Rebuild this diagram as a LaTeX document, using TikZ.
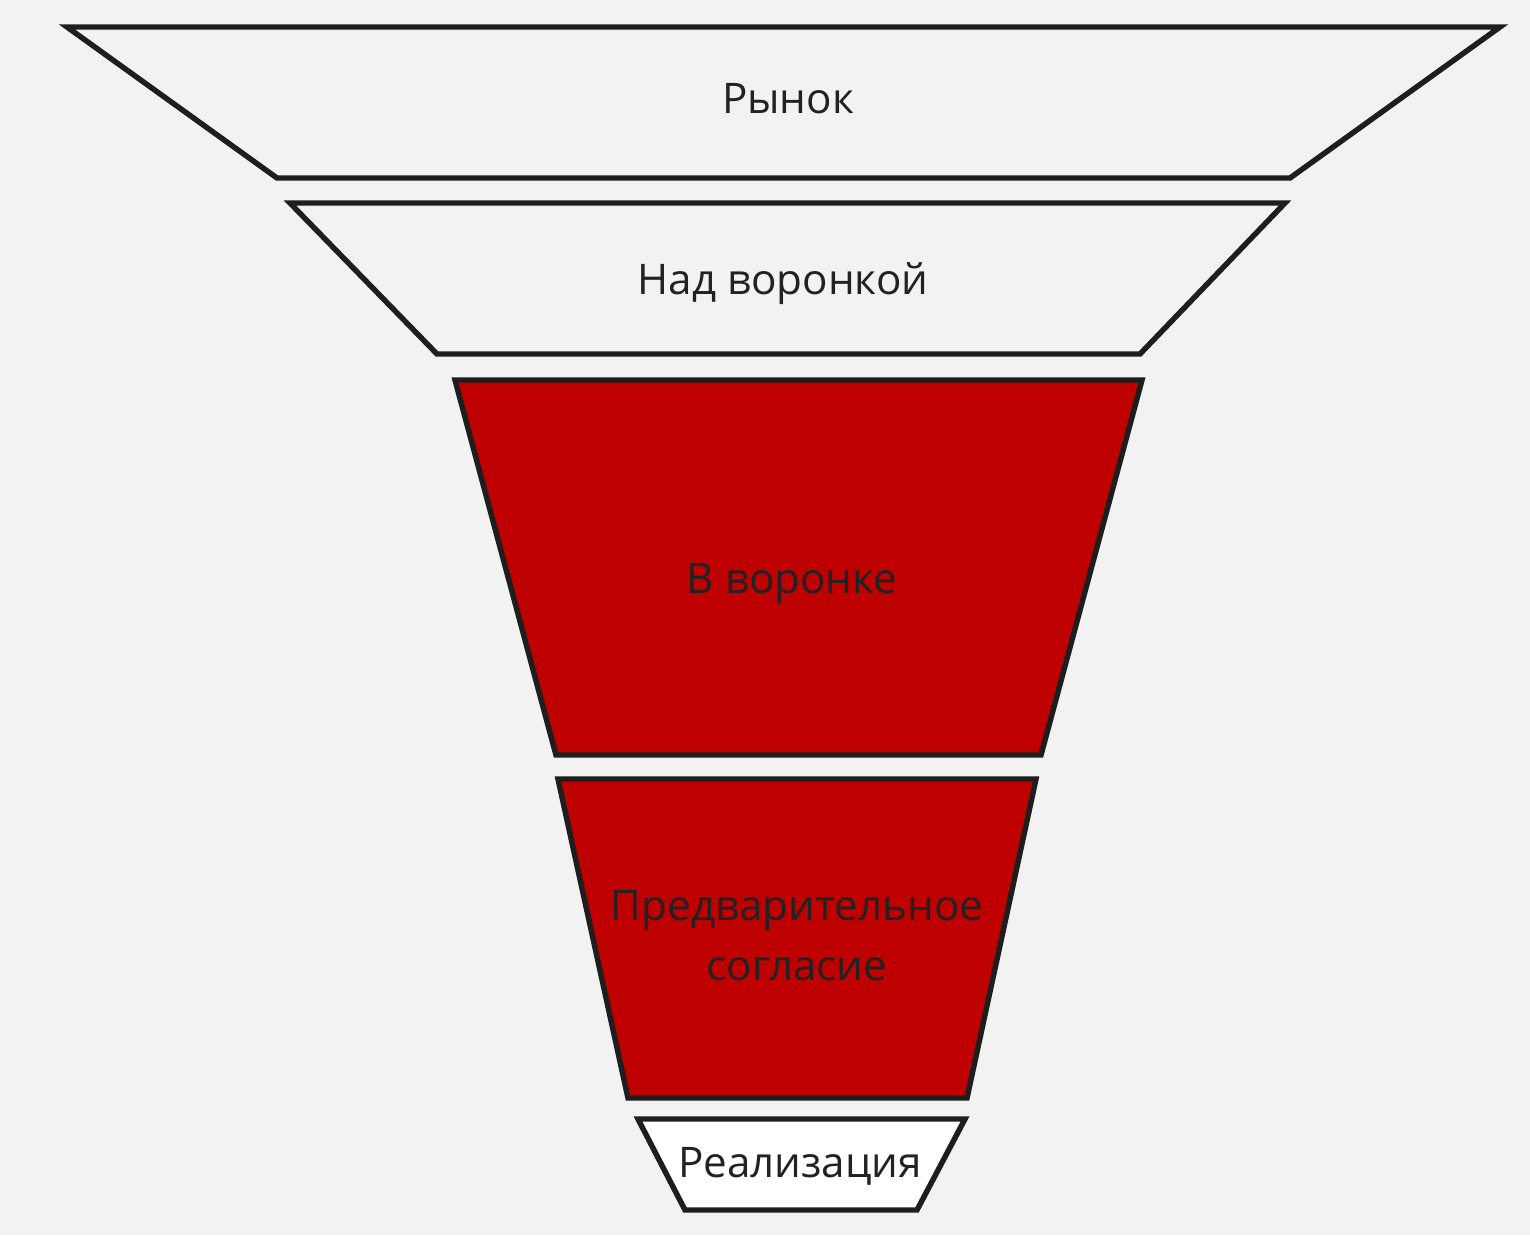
\documentclass[tikz,border=0pt]{standalone}
\usepackage{fontspec}
\setmainfont{Open Sans}
\usepackage{xcolor}
\usepackage{tikz}
\usetikzlibrary{positioning}
\definecolor{paper}{RGB}{242,242,242}
\definecolor{funnelred}{RGB}{191,0,0}
\definecolor{inkline}{RGB}{30,30,30}
\definecolor{inktext}{RGB}{34,34,34}

\begin{document}
\begin{tikzpicture}[
  x=0.2mm, y=-0.2mm,
  font=\fontsize{24}{34}\selectfont,
  layer/.style={draw=inkline,line width=3.1pt,fill=paper},
  hot/.style={layer,fill=funnelred},
  txt/.style={text=inktext,align=center,inner sep=0pt},
]
\useasboundingbox[fill=paper] (0,0) rectangle (1530,1235);

% funnel stages, top to bottom
\draw[layer] (67,27) -- (1500,27) -- (1290,178) -- (277,178) -- cycle;
\draw[layer] (290,203) -- (1285,203) -- (1140,354) -- (437,354) -- cycle;
\draw[hot] (455,380) -- (1142,380) -- (1041,755) -- (556,755) -- cycle;
\draw[hot] (558,779) -- (1036,779) -- (967,1098) -- (628,1098) -- cycle;
\draw[layer,fill=white] (638,1119) -- (965,1119) -- (917,1210) -- (685,1210) -- cycle;

% labels
\node[txt] (market) at (788,99) {Рынок};
\node[txt] (above) at (783,284) {Над воронкой};
\node[txt] (infunnel) at (792,583) {В воронке};
\node[txt] (precons) at (797,936) {Предварительное\\согласие};
\node[txt] (deal) at (800,1166) {Реализация};
\end{tikzpicture}
\end{document}
